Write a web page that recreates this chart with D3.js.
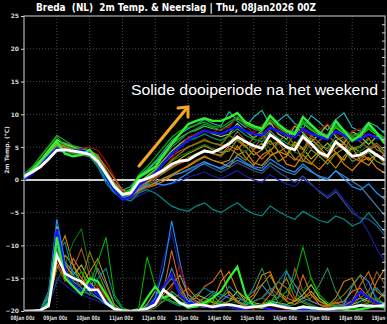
<!DOCTYPE html>
<html>
<head>
<meta charset="utf-8">
<script src="https://cdn.jsdelivr.net/npm/d3@7"></script>
<style>
  html, body { margin: 0; padding: 0; background: #000; }
  svg { display: block; }
  text { white-space: pre; }
</style>
</head>
<body>
<div id="chart"></div>
<script>
// dag labels (om de 24u), stappen van 6u
var dayLabels = ["08Jan 00z","09Jan 00z","10Jan 00z","11Jan 00z","12Jan 00z","13Jan 00z","14Jan 00z","15Jan 00z","16Jan 00z","17Jan 00z","18Jan 00z","19Jan 00z"];
var tempTicks = [25, 20, 15, 10, 5, 0, -5, -10, -15, -20];

// ensemble gemiddelde
var tempMean = [0.5,1.2,2.0,3.2,4.5,4.6,4.4,4.2,3.9,2.8,1.0,-1.0,-2.2,-2.0,-0.2,0.2,0.8,1.5,2.4,2.9,3.0,3.8,4.4,4.2,4.8,5.5,6.6,5.8,5.2,4.8,6.9,6.0,5.0,4.6,6.6,5.5,4.2,3.6,5.8,4.8,3.6,3.8,4.6,3.8,3.0];
var precipMean = [0,0.02,0.05,0.3,3.4,2.3,2.0,1.8,1.3,1.3,0.5,0.12,0.03,0,0.05,0.15,0.4,1.3,0.9,0.5,0.3,0.4,0.35,0.25,0.35,0.4,0.3,0.2,0.25,0.3,0.4,0.3,0.2,0.15,0.25,0.2,0.15,0.1,0.15,0.2,0.25,0.35,0.3,0.3,0.35];

// kleuren van de leden (0 = controle, 1 = operationeel)
var memberColors = ["#30f030","#1414ff","#00b000","#008b8b","#d2691e","#b8860b","#808000","#a01010","#1e90ff","#1c1c9c","#2e8b57","#9acd32","#4682b4","#a0522d","#107010","#e08000","#20b2aa","#6b8e23","#2f4f8f","#32cd32","#c8a000","#00a050"];

var tempMembers = [
  [0.3,1.5,2.8,4.2,5.8,4.0,3.6,3.8,4.6,3.0,0.8,-1.0,-2.3,-1.8,0.5,1.2,2.0,3.8,5.5,7.0,8.5,9.0,9.4,9.0,9.0,9.5,10.2,8.8,8.2,7.8,9.8,8.5,7.5,7.0,9.6,8.4,7.2,6.5,9.0,7.5,6.0,6.8,8.6,7.2,5.5],
  [0.0,1.0,2.2,3.6,4.8,4.6,4.4,4.5,4.2,3.0,0.5,-1.5,-3.0,-2.6,-0.8,0.0,1.0,2.5,4.0,5.0,6.0,6.8,7.5,7.2,7.0,7.6,8.2,7.4,7.0,6.8,8.0,7.4,6.8,6.5,7.8,7.0,6.6,6.2,7.4,6.8,6.0,6.2,7.0,6.4,6.0],
  [0.5,1.8,3.5,5.0,6.6,5.2,4.8,4.6,4.0,2.6,0.2,-1.2,-2.0,-1.5,0.8,2.0,3.5,5.0,6.5,7.5,8.0,8.4,8.8,8.2,8.0,8.8,9.6,8.4,7.8,7.4,9.2,8.2,7.4,7.0,8.8,7.8,7.0,6.6,8.2,7.2,6.6,7.0,8.0,7.2,6.4],
  [0.8,1.6,2.8,3.8,5.0,4.8,4.2,4.0,3.5,2.0,-0.5,-2.0,-2.8,-3.2,-2.0,-1.5,-2.0,-3.0,-4.0,-4.5,-4.8,-4.0,-3.5,-4.5,-5.0,-4.2,-3.5,-4.5,-5.2,-5.5,-4.0,-4.8,-5.5,-6.0,-4.8,-5.5,-6.2,-6.5,-5.5,-6.0,-7.0,-6.5,-5.0,-6.5,-8.0],
  [0.2,1.2,2.5,3.8,5.2,5.0,4.6,4.4,4.0,3.6,2.0,0.2,-1.5,-2.0,-1.0,-0.2,0.5,1.2,2.0,2.5,3.0,3.8,4.5,4.0,3.8,5.2,4.6,6.0,4.4,3.2,4.4,5.8,4.0,3.0,4.2,6.4,5.0,3.6,4.8,5.6,3.4,2.8,4.6,5.2,3.6],
  [0.6,1.4,2.6,4.0,5.5,5.2,4.8,4.6,4.4,3.8,1.5,-0.5,-2.0,-2.5,-1.5,-1.0,-0.5,0.2,0.8,1.5,2.0,2.8,3.5,3.0,2.6,3.0,5.2,3.4,2.2,3.8,4.6,2.8,3.6,5.4,3.0,2.4,4.0,3.2,1.8,3.6,5.0,3.0,2.2,3.8,2.4],
  [0.4,1.3,2.4,3.6,4.6,4.4,4.0,3.8,3.6,2.5,0.6,-1.2,-2.5,-2.2,-1.0,-0.2,0.6,1.8,3.0,4.0,5.0,5.5,6.0,5.6,5.4,6.8,6.0,5.0,6.4,7.2,5.4,5.8,7.0,5.2,4.6,6.8,5.6,4.4,6.0,6.6,4.8,5.2,6.4,4.6,4.0],
  [0.0,1.0,2.2,3.5,4.8,4.6,4.6,4.8,5.0,4.5,2.8,0.5,-1.8,-2.6,-2.0,-1.2,0.0,1.5,3.2,5.0,6.5,7.0,7.5,7.2,7.8,8.0,9.6,8.2,7.2,8.4,9.0,7.8,6.8,8.4,7.4,6.6,7.6,8.6,7.0,6.0,7.4,7.8,6.2,7.0,5.8],
  [0.6,1.6,2.8,4.0,5.0,4.7,4.3,4.0,3.6,2.2,0.0,-1.8,-2.8,-2.4,-1.4,-0.8,-0.5,-0.8,-0.5,0.2,1.0,1.8,2.6,2.2,1.8,2.6,3.5,2.6,2.0,1.8,3.2,2.4,1.6,1.2,2.4,1.4,0.4,0.0,1.4,0.2,-1.0,-1.5,-0.6,-2.0,-3.0],
  [0.2,1.0,2.0,3.4,4.4,4.2,4.0,3.9,3.8,2.4,0.2,-1.6,-3.0,-3.2,-2.4,-1.8,-1.2,-0.8,-0.6,-0.2,0.4,0.8,1.2,0.6,0.2,0.8,1.4,0.6,0.0,-0.4,0.8,0.0,-0.6,-1.0,0.2,-0.8,-1.6,-2.5,-1.4,-3.0,-4.5,-6.0,-8.0,-10.5,-12.5],
  [0.9,2.0,3.6,5.2,6.8,6.0,5.2,4.8,4.4,3.0,0.9,-0.8,-2.2,-1.6,0.2,1.0,2.0,3.5,5.0,6.0,7.2,7.8,8.5,8.0,7.6,8.4,9.6,8.6,8.0,7.6,9.6,8.4,7.6,7.4,9.0,8.2,7.4,6.8,8.4,7.6,6.8,7.2,8.2,7.2,6.2],
  [0.3,1.5,3.0,4.6,6.2,5.4,5.0,4.6,4.2,2.8,0.6,-1.0,-2.4,-2.0,-0.4,0.6,1.6,3.0,4.4,5.5,6.4,7.0,7.6,7.0,6.6,7.0,8.6,7.4,6.4,7.6,8.8,7.0,6.2,8.2,7.2,5.8,7.0,8.4,6.6,5.6,7.4,6.6,5.4,6.6,5.6],
  [0.5,1.4,2.4,3.8,4.8,4.8,4.6,4.4,4.0,3.2,1.2,-0.6,-2.2,-2.6,-1.8,-1.0,-0.4,0.2,0.8,1.0,1.6,2.2,2.8,2.2,1.6,2.2,3.0,2.4,1.8,1.4,2.6,1.8,1.2,0.8,2.0,1.2,0.6,0.2,1.4,0.6,-0.2,-1.0,-2.5,-4.0,-5.5],
  [0.7,1.6,2.8,4.2,5.6,5.0,4.6,4.4,4.1,3.2,1.0,-0.6,-1.8,-2.2,-1.0,0.0,1.0,2.4,3.6,4.4,5.0,5.6,6.2,5.6,5.2,5.6,7.4,6.0,4.8,6.4,7.6,6.0,5.0,7.2,6.4,4.8,6.0,7.0,5.4,4.6,6.6,5.8,4.8,5.6,4.4],
  [0.1,1.1,2.3,3.4,4.4,4.2,4.0,3.8,3.5,2.4,0.4,-1.4,-2.6,-2.8,-1.8,-0.8,0.4,1.6,2.8,3.6,4.2,4.8,5.4,4.8,4.4,6.0,5.0,4.2,5.6,6.6,4.6,5.4,6.2,4.2,3.8,5.6,4.8,3.4,5.0,5.8,3.8,4.4,5.2,3.6,3.0],
  [0.4,1.3,2.5,3.9,5.0,4.9,4.5,4.2,3.9,2.8,0.8,-1.0,-2.2,-2.4,-1.6,-1.2,-0.8,-0.2,0.6,1.4,2.2,3.0,3.6,3.0,2.6,2.0,3.8,4.4,2.6,2.2,3.6,4.4,2.4,2.0,3.8,2.6,1.6,3.0,4.2,2.4,1.4,2.8,3.4,1.8,1.0],
  [0.6,1.7,3.0,4.4,5.8,5.4,5.0,4.7,4.3,3.2,1.2,-0.4,-1.6,-1.0,0.6,1.6,2.8,4.4,6.0,7.0,7.8,8.4,9.2,8.6,8.2,10.4,9.0,8.0,9.6,10.6,8.4,9.0,10.0,8.6,7.8,9.8,8.8,7.6,9.2,10.2,8.0,7.4,8.8,8.2,7.0],
  [0.3,1.2,2.4,3.7,4.9,4.5,4.1,3.9,3.7,2.6,0.5,-1.2,-2.4,-2.6,-1.4,-0.6,0.2,1.0,1.8,2.6,3.4,4.0,4.6,4.0,3.6,4.8,4.0,3.0,4.6,5.6,3.8,4.2,5.0,3.2,2.8,4.6,3.6,2.4,4.0,4.8,2.8,3.4,4.2,2.8,2.2],
  [0.5,1.5,2.6,3.9,5.1,4.9,4.6,4.3,4.0,2.9,0.7,-1.2,-2.6,-2.2,-1.2,-0.6,-0.2,0.2,0.6,1.0,1.4,2.0,2.4,1.8,1.2,1.8,2.6,2.0,1.4,1.0,2.2,1.2,0.4,-0.4,0.6,-0.6,-1.8,-2.8,-1.8,-3.4,-5.0,-5.8,-6.0,-7.0,-8.5],
  [0.2,1.4,2.9,4.5,6.0,5.6,5.2,4.9,4.6,3.4,1.2,-0.6,-2.0,-1.4,0.4,1.4,2.6,4.0,5.4,6.4,7.2,7.6,8.2,7.8,7.6,8.4,9.4,8.4,7.8,7.4,9.0,8.0,7.2,6.8,8.6,7.6,6.8,6.4,8.0,7.0,6.2,6.6,7.8,6.8,5.8],
  [0.5,1.5,2.7,4.0,5.3,5.0,4.6,4.3,4.0,3.0,1.0,-0.8,-2.0,-2.2,-1.2,-0.4,0.4,1.2,2.2,3.2,4.0,4.6,5.2,4.6,4.2,4.4,6.2,5.2,3.8,4.6,6.0,4.4,3.8,5.8,4.8,3.2,4.4,5.6,4.2,3.0,5.0,4.2,3.0,4.0,3.0],
  [0.4,1.4,2.7,4.1,5.4,5.1,4.8,4.6,4.3,3.1,0.9,-0.9,-2.3,-2.0,-0.6,0.4,1.4,2.6,4.0,5.2,6.0,6.4,7.0,6.4,6.0,6.8,7.8,6.8,6.2,5.8,7.4,6.4,5.6,5.2,7.0,6.0,5.2,4.8,6.6,5.6,4.6,5.0,6.2,5.2,4.2]
];

// neerslag per lid (mm / 6u)
var precipMembers = [
  [0,0,0,0.5,4.5,2.0,1.5,1.0,2.0,1.8,1.0,0.2,0,0,0,0.8,1.5,0.8,1.0,0.5,0.2,0.3,0.5,0.8,1.2,2.0,2.7,1.0,0.3,0.2,0.5,0.3,0.2,0.1,0.3,0.2,0.1,0.1,0.2,0.1,0,0.1,0.2,0.3,0.2],
  [0,0,0,0.6,5.0,2.6,1.6,1.2,1.6,1.0,0.6,0.2,0,0,0,0.2,0.6,1.5,2.2,1.0,0.5,0.4,0.3,0.2,0.3,0.4,0.2,0.1,0.3,0.2,0.1,0,0,0,0.1,0,0,0,0.1,0.2,0.5,1.2,0.8,0.5,0.3],
  [0,0,0,1.0,4.8,2.6,1.8,2.4,1.6,3.0,4.5,1.0,0.2,0,0.2,3.3,1.5,0.8,0.6,0.4,0.3,0.2,0.4,0.6,0.5,0.3,0.2,0.5,0.4,0.3,0.6,0.8,1.2,2.0,3.9,2.0,1.0,0.5,0.3,0.2,0.1,0.3,0.5,0.8,0.4],
  [0,0,0,0.8,3.6,4.2,2.2,1.4,1.0,2.0,2.6,0.8,0.1,0,0,0.3,0.6,0.8,0.5,0.3,0.6,1.0,1.4,1.1,0.8,1.5,1.0,0.5,0.6,0.8,1.2,1.8,2.5,1.2,0.6,0.4,0.2,0.1,0.3,0.4,0.2,0.6,1.0,1.4,0.8],
  [0,0,0,0.4,3.0,2.0,3.2,2.4,1.4,1.0,0.6,0.1,0,0,0,0.2,0.6,1.2,3.7,1.6,0.6,0.8,1.5,1.8,2.5,1.0,0.5,0.3,0.2,0.4,1.0,1.8,1.4,0.6,2.2,1.0,0.4,0.2,0.5,0.3,0.6,1.6,2.4,1.2,0.8],
  [0,0,0,0.5,2.6,3.4,2.8,1.6,2.4,3.2,1.8,0.4,0,0,0,0.1,0.4,1.0,1.6,2.2,1.0,0.6,0.4,0.3,0.8,1.2,0.6,0.3,0.8,1.6,2.2,1.2,0.6,0.4,0.8,1.2,0.6,0.3,0.8,1.8,2.0,0.8,0.6,1.8,2.6],
  [0,0,0,0.7,4.2,3.0,2.0,1.8,3.6,2.4,1.2,0.2,0,0,0,0.2,0.6,1.4,2.0,1.2,0.5,0.4,0.8,0.6,0.4,0.6,0.8,0.6,0.4,0.3,0.5,1.2,2.0,0.8,0.5,0.3,0.2,0.3,0.6,1.0,1.6,2.2,1.0,0.6,0.5],
  [0,0,0,0.4,3.2,2.4,2.0,1.4,1.0,1.6,0.8,0.1,0,0,0,0.1,0.3,0.8,1.4,2.8,1.2,0.4,0.3,0.2,0.3,0.4,0.3,0.2,0.1,0.2,0.3,0.2,0.1,0.2,0.3,0.2,0.1,0.2,0.4,0.3,0.2,0.3,0.6,0.4,0.3],
  [0,0,0.1,1.2,5.6,3.0,2.4,1.8,1.2,0.8,0.4,0.1,0,0,0,0.1,0.8,2.5,5.5,3.0,0.8,0.4,0.3,0.2,0.6,1.0,0.6,0.4,0.3,0.2,0.6,0.4,0.3,0.1,0.2,0.1,0,0,0.2,0.4,1.5,2.2,1.8,0.6,0.4],
  [0,0,0,0.3,2.0,1.6,1.2,1.0,0.8,0.6,0.4,0.1,0,0,0,0.2,1.0,3.2,4.8,2.4,1.0,0.6,0.4,0.3,0.2,0.2,0.1,0.2,0.4,0.3,0.1,0,0,0.1,0.2,0.1,0,0,0.1,0.3,0.8,1.0,1.8,0.8,0.4],
  [0,0,0,0.6,3.8,2.2,1.6,1.2,1.0,0.8,0.5,0.1,0,0,0,0,0.2,0.6,1.2,0.8,0.4,0.3,0.6,1.0,0.4,0.3,0.2,0.6,1.5,2.6,1.4,0.5,0.3,0.4,0.6,0.8,1.6,2.6,1.2,0.4,0.2,0.1,0.3,0.6,0.4],
  [0,0,0,0.9,5.2,2.8,2.2,2.8,1.8,1.2,0.6,0.2,0,0,0,0.4,1.2,0.8,0.6,0.4,0.6,1.0,0.8,0.5,0.4,0.6,1.2,0.8,0.5,0.4,0.6,0.5,0.4,0.6,1.0,1.6,0.8,0.4,0.3,0.2,0.4,0.6,0.8,0.5,0.3],
  [0,0,0,0.5,4.0,2.4,1.8,1.4,1.2,2.6,1.6,0.4,0,0,0,0.1,0.3,1.2,2.6,1.4,0.6,0.5,0.8,1.2,1.0,0.8,0.6,0.8,1.2,1.6,1.0,0.8,2.4,1.6,0.8,0.6,0.4,0.2,0.3,0.4,0.6,0.8,0.4,0.3,0.2],
  [0,0,0,0.6,2.8,1.8,2.6,3.8,2.2,1.4,0.8,0.2,0,0,0,0.1,0.4,0.8,1.2,0.8,0.4,0.3,0.2,0.4,0.6,0.4,0.3,0.4,0.6,0.8,1.4,1.0,0.6,2.6,1.2,0.6,0.4,0.3,0.4,0.6,0.4,0.8,1.2,2.4,1.6],
  [0,0,0,0.4,1.8,2.8,4.2,5.0,2.6,1.6,0.8,0.2,0,0,0,0.1,0.4,0.6,0.8,0.6,0.4,0.3,0.4,0.3,0.2,0.4,0.6,0.4,0.6,0.8,0.6,0.5,0.8,1.6,1.2,2.0,0.8,0.4,0.3,0.2,0.3,0.4,0.8,1.4,0.8],
  [0,0,0,0.5,3.4,4.6,2.8,2.0,1.4,1.0,0.6,0.2,0,0,0,0.2,0.4,0.6,0.8,1.0,1.4,0.8,0.5,0.6,1.8,2.4,1.2,0.6,1.0,2.2,2.4,1.2,0.8,0.6,0.8,1.0,0.6,0.4,0.5,0.6,1.2,1.4,0.8,0.6,1.2]
];

var width = 387, height = 324;
var plotL = 24, plotR = 385, plotT = 16, plotB = 311;

var svg = d3.select("#chart").append("svg")
  .attr("width", width)
  .attr("height", height)
  .style("background", "#000");

var x = d3.scaleLinear().domain([0, 44]).range([plotL, plotR]);
var yT = d3.scaleLinear().domain([-20, 25]).range([plotB, plotT]);
var yP = d3.scaleLinear().domain([0, 18]).range([plotB, plotT]);

svg.append("clipPath").attr("id", "clip")
  .append("rect")
  .attr("x", plotL).attr("y", plotT)
  .attr("width", plotR - plotL).attr("height", plotB - plotT);

// rasterlijnen
var grid = svg.append("g");
grid.selectAll("line.h")
  .data(tempTicks.filter(t => t > -20 && t < 25 && t != 0))
  .enter().append("line")
  .attr("x1", plotL).attr("x2", plotR)
  .attr("y1", d => yT(d)).attr("y2", d => yT(d))
  .attr("stroke", "#4a4a4a").attr("stroke-width", 1)
  .attr("stroke-dasharray", "1,2");
grid.selectAll("line.v")
  .data(d3.range(1, 11))
  .enter().append("line")
  .attr("x1", d => x(d * 4)).attr("x2", d => x(d * 4))
  .attr("y1", plotT).attr("y2", plotB)
  .attr("stroke", "#4a4a4a").attr("stroke-width", 1)
  .attr("stroke-dasharray", "1,2");

// nul lijn
svg.append("line")
  .attr("x1", plotL).attr("x2", plotR)
  .attr("y1", yT(0)).attr("y2", yT(0))
  .attr("stroke", "#cfcfcf").attr("stroke-width", 2);

var plot = svg.append("g").attr("clip-path", "url(#clip)");

var lineT = d3.line().x((d, i) => x(i)).y(d => yT(d));
var lineP = d3.line().x((d, i) => x(i)).y(d => yP(d));

// neerslag leden
plot.selectAll("path.pm")
  .data(precipMembers.map((d, i) => ({ v: d, i: i })).reverse())
  .enter().append("path")
  .attr("d", d => lineP(d.v))
  .attr("fill", "none")
  .attr("stroke", d => memberColors[d.i])
  .attr("stroke-width", d => d.i < 2 ? 2.2 : 1.1);

// temperatuur leden, controle en oper als laatste
plot.selectAll("path.tm")
  .data(tempMembers.map((d, i) => ({ v: d, i: i })).reverse())
  .enter().append("path")
  .attr("d", d => lineT(d.v))
  .attr("fill", "none")
  .attr("stroke", d => memberColors[d.i])
  .attr("stroke-width", d => d.i < 2 ? 2.4 : 1.2);

// gemiddelde
plot.append("path")
  .attr("d", lineP(precipMean))
  .attr("fill", "none").attr("stroke", "#fff").attr("stroke-width", 2.5);
plot.append("path")
  .attr("d", lineT(tempMean))
  .attr("fill", "none").attr("stroke", "#fff").attr("stroke-width", 2.8);

// kader
svg.append("rect")
  .attr("x", plotL).attr("y", plotT)
  .attr("width", plotR - plotL).attr("height", plotB - plotT)
  .attr("fill", "none").attr("stroke", "#b0b0b0").attr("stroke-width", 1.2);

// assen
var axisY = svg.append("g").attr("transform", `translate(${plotL},0)`)
  .call(d3.axisLeft(yT).tickValues(tempTicks).tickSize(3).tickFormat(d3.format("d")));
var axisX = svg.append("g").attr("transform", `translate(0,${plotB})`)
  .call(d3.axisBottom(x).tickValues(d3.range(0, 45, 4)).tickSize(0).tickFormat((d, i) => dayLabels[i]));
var axisP = svg.append("g").attr("transform", `translate(${plotR},0)`)
  .call(d3.axisLeft(yP).tickValues(d3.range(0.5, 18, 0.5)).tickSize(3).tickFormat(""));

[axisY, axisX, axisP].forEach(a => {
  a.select(".domain").remove();
  a.selectAll("line").attr("stroke", "#d0d0d0");
  a.selectAll("text")
    .attr("fill", "#d8d8d8")
    .style("font-family", "DejaVu Sans")
    .style("font-size", "6px")
    .style("font-weight", "bold");
});
axisY.selectAll("text").attr("x", -5);
axisX.selectAll("text")
  .attr("y", 5).attr("dx", -2)
  .attr("textLength", 24)
  .attr("lengthAdjust", "spacingAndGlyphs");

// y as titel
svg.append("text")
  .attr("transform", "translate(9,150) rotate(-90)")
  .attr("text-anchor", "middle")
  .attr("fill", "#d8d8d8")
  .style("font-family", "DejaVu Sans")
  .style("font-size", "6px")
  .style("font-weight", "bold")
  .text("2m Temp. (\u00b0C)");

// titel
svg.append("text")
  .attr("x", 36).attr("y", 11)
  .attr("fill", "#fff")
  .attr("textLength", 280)
  .attr("lengthAdjust", "spacingAndGlyphs")
  .style("font-family", "DejaVu Sans")
  .style("font-size", "10.5px")
  .style("font-weight", "bold")
  .text("Breda  (NL)  2m Temp. & Neerslag | Thu, 08Jan2026 00Z");

// annotatie
svg.append("text")
  .attr("x", 131).attr("y", 95)
  .attr("fill", "#fff")
  .attr("textLength", 247)
  .attr("lengthAdjust", "spacingAndGlyphs")
  .style("font-family", "Liberation Sans")
  .style("font-size", "15.5px")
  .text("Solide dooiperiode na het weekend");

var arrow = svg.append("g")
  .attr("stroke", "#f5a623").attr("stroke-width", 3)
  .attr("fill", "none").attr("stroke-linecap", "round");
arrow.append("line").attr("x1", 139).attr("y1", 166).attr("x2", 187).attr("y2", 108);
arrow.append("polyline").attr("points", "178,108 188,107 188,117");
</script>
</body>
</html>
